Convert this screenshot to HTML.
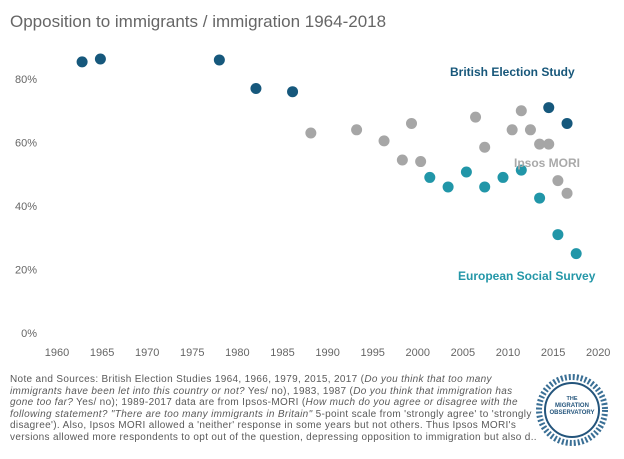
<!DOCTYPE html>
<html><head><meta charset="utf-8"><style>
body{margin:0;background:#fff;width:624px;height:459px;overflow:hidden;font-family:"Liberation Sans","DejaVu Sans",sans-serif}
#note{position:absolute;left:10px;top:374px;font-size:10px;letter-spacing:0.33px;line-height:11.6px;color:#5a5a5a;white-space:nowrap}
</style></head><body>
<svg id="chart" width="624" height="459" style="position:absolute;left:0;top:0">
<text x="10" y="27" font-size="17" fill="#666">Opposition to immigrants / immigration 1964-2018</text>
<g id="yaxis"></g>
<g id="xaxis"></g>
<g id="pts"></g>
<text x="450" y="76" font-size="12" font-weight="bold" fill="#17577a">British Election Study</text>
<text x="514" y="167" font-size="12" font-weight="bold" fill="#a9a9a9">Ipsos MORI</text>
<text x="458" y="280" font-size="12" font-weight="bold" fill="#2497a8">European Social Survey</text>
<g>
<circle cx="572" cy="410" r="33" fill="none" stroke="#3a6f95" stroke-width="6" stroke-dasharray="2 2"/>
<circle cx="572" cy="410" r="27" fill="none" stroke="#24557c" stroke-width="2"/>
<text x="572" y="400" font-size="5.5" font-weight="bold" fill="#24557c" text-anchor="middle">THE</text>
<text x="572" y="407" font-size="6" font-weight="bold" fill="#24557c" text-anchor="middle">MIGRATION</text>
<text x="572" y="414" font-size="6" font-weight="bold" fill="#24557c" text-anchor="middle">OBSERVATORY</text>
</g>
</svg>
<div id="note">Note and Sources: British Election Studies 1964, 1966, 1979, 2015, 2017 (<i>Do you think that too many</i><br><i>immigrants have been let into this country or not?</i> Yes/ no), 1983, 1987 (<i>Do you think that immigration has</i><br><i>gone too far?</i> Yes/ no); 1989-2017 data are from Ipsos-MORI (<i>How much do you agree or disagree with the</i><br><i>following statement? "There are too many immigrants in Britain"</i> 5-point scale from 'strongly agree' to 'strongly<br>disagree'). Also, Ipsos MORI allowed a 'neither' response in some years but not others. Thus Ipsos MORI's<br>versions allowed more respondents to opt out of the question, depressing opposition to immigration but also d..</div>
<script>
const besYears=[1964,1966,1979,1983,1987,2015,2017];
const besVals=[85.4,86.3,86,77,76,71,66];
const ipsosYears=[1989,1994,1997,1999,2000,2001,2007,2008,2011,2012,2013,2014,2015,2016,2017];
const ipsosVals=[63,64,60.5,54.5,66,54,68,58.5,64,70,64,59.5,59.5,48,44];
const essYears=[2002,2004,2006,2008,2010,2012,2014,2016,2018];
const essVals=[49,46,50.7,46,49,51.3,42.5,31,25];
const xTicks=[1960,1965,1970,1975,1980,1985,1990,1995,2000,2005,2010,2015,2020];
const yTicks=[0,20,40,60,80];
const NS="http://www.w3.org/2000/svg";
const x=yr=>45.5+9.15*(yr-1960);
const xl=yr=>57+9.02*(yr-1960);
const y=v=>333-3.175*v;
function mk(tag,parent,attrs){const e=document.createElementNS(NS,tag);for(const k in attrs)e.setAttribute(k,attrs[k]);parent.appendChild(e);return e;}
const ya=document.getElementById('yaxis');
yTicks.forEach(t=>{const e=mk('text',ya,{x:37,y:y(t)+4,'font-size':11,fill:'#666','text-anchor':'end'});e.textContent=t+'%';

});
const xa=document.getElementById('xaxis');
xTicks.forEach(t=>{const e=mk('text',xa,{x:xl(t),y:356,'font-size':11,fill:'#666','text-anchor':'middle'});e.textContent=t;

});
const pg=document.getElementById('pts');
function series(ys,vs,col,name){ys.forEach((yr,i)=>{const c=mk('circle',pg,{cx:x(yr),cy:y(vs[i]),r:5.5,fill:col});

});}
series(ipsosYears,ipsosVals,'#a6a6a6','ipsos-point');
series(essYears,essVals,'#2196a8','ess-point');
series(besYears,besVals,'#16587c','bes-point');
</script>
</body></html>
